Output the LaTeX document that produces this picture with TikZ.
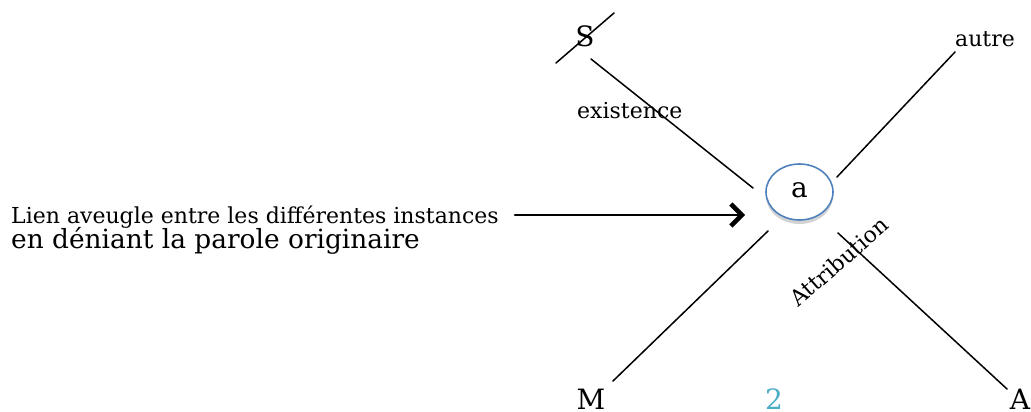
\documentclass[tikz,border=0pt]{standalone}
\usepackage{fontspec}
\setmainfont{DejaVu Serif}
\usetikzlibrary{arrows.meta,shapes.geometric,shadows}
\definecolor{FigureBlue}{HTML}{4F81BD}
\definecolor{FigureTeal}{HTML}{4BACC6}

\begin{document}
\begin{tikzpicture}[x=1pt,y=-1pt,line cap=round,line join=round,
    small/.style={inner sep=0pt,font=\fontsize{22}{24}\selectfont},
    big/.style={inner sep=0pt,font=\fontsize{28}{30}\selectfont},
    arm/.style={line width=1.5pt}]
  \useasboundingbox (0,0) rectangle (1031,412);
  % ends of the four arms round a
  \coordinate (Stop) at (591,59);
  \coordinate (Sbot) at (753,188);
  \coordinate (Rtop) at (955,52);
  \coordinate (Rbot) at (837,177);
  \coordinate (Mtop) at (768,231);
  \coordinate (Mbot) at (613,381);
  \coordinate (Atop) at (838,233);
  \coordinate (Abot) at (1007,389);
  \coordinate (Bar1) at (556,63);
  \coordinate (Bar2) at (614,13);
  \coordinate (ArrowStart) at (515,215);
  \coordinate (ArrowTip) at (745,215);
  \node[ellipse,draw=FigureBlue,line width=1.6pt,fill=white,
        minimum width=67pt,minimum height=56pt,
        drop shadow={shadow xshift=0pt,shadow yshift=-4pt,opacity=.35}] (a) at (799.5,192) {};
  \node[big] (alabel) at (799.5,190) {a};
  \draw[arm] (Stop)--(Sbot) (Rbot)--(Rtop) (Mtop)--(Mbot) (Atop)--(Abot);
  \draw[arm] (Bar1)--(Bar2);
  \draw[line width=2.6pt,-{Straight Barb[length=11pt,width=22pt,line width=4.5pt]}] (ArrowStart)--(ArrowTip);
  \node[big,anchor=base] (S) at (585,47) {S};
  \node[small,anchor=base west] (existence) at (577,118) {existence};
  \node[small,anchor=base west] (autre) at (955,47) {autre};
  \node[small,anchor=base west,rotate=41] (attribution) at (798,308) {Attribution};
  \node[big,anchor=base] (M) at (591,409) {M};
  \node[big,anchor=base,text=FigureTeal] (two) at (774,409) {2};
  \node[big,anchor=base] (A) at (1020,409) {A};
  \node[small,anchor=base west] (lien) at (11,223) {Lien aveugle entre les différentes instances};
  \node[inner sep=0pt,anchor=base west,font=\fontsize{26.4}{28}\selectfont] (parole) at (11,248) {en déniant la parole originaire};
\end{tikzpicture}
\end{document}
